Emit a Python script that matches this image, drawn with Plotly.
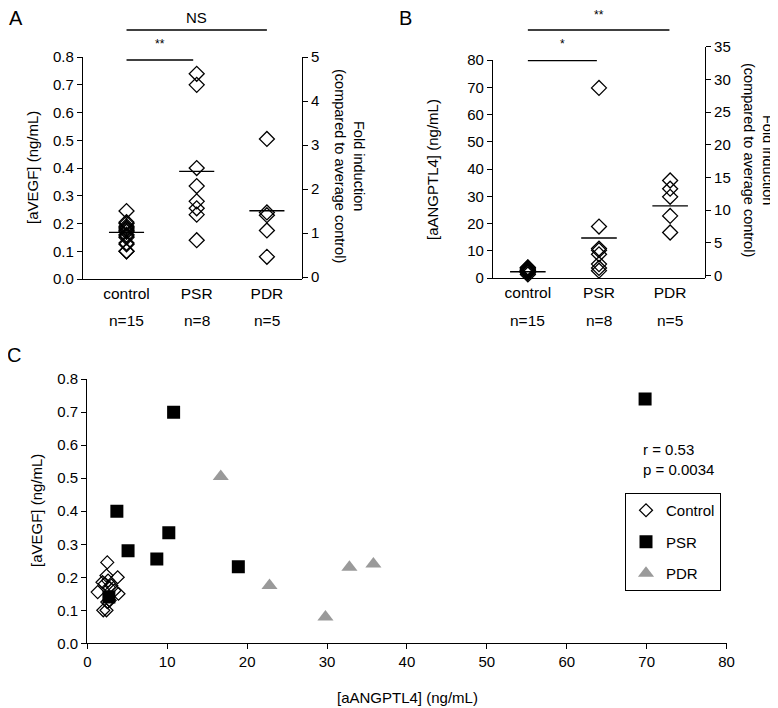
import plotly.graph_objects as go

# the page adds an 8 px body margin, so the figure is laid out in reference
# pixel coordinates shifted by OFF
OFF = 8
W, H = 778 - OFF, 708 - OFF
FONT = "Liberation Sans, Arial, sans-serif"

# ---------------- data ----------------
categories = ["control", "PSR", "PDR"]
n_labels = ["n=15", "n=8", "n=5"]

ctrl_angptl4 = [2.5, 2.4, 3.8, 2.6, 1.9, 2.2, 3.0, 2.7, 3.4, 1.3, 3.9, 2.8, 2.5, 2.0, 2.4]
ctrl_vegf = [0.245, 0.205, 0.20, 0.19, 0.185, 0.18, 0.175, 0.17, 0.16, 0.155, 0.15, 0.13, 0.125, 0.10, 0.10]

psr_angptl4 = [69.8, 10.8, 3.7, 10.2, 5.1, 8.7, 18.9, 2.7]
psr_vegf = [0.74, 0.70, 0.40, 0.335, 0.28, 0.255, 0.232, 0.14]

pdr_angptl4 = [16.7, 22.8, 29.8, 32.8, 35.8]
pdr_vegf = [0.505, 0.175, 0.08, 0.23, 0.24]

vegf_means = [0.168, 0.388, 0.246]
angptl4_means = [2.3, 14.7, 26.5]

sig_a = [("**", 0, 0.95), ("NS", 0, 2.0)]
sig_b = [("*", 0, 0.97), ("**", 0, 1.99)]

corr_text = ["r = 0.53", "p = 0.0034"]

# ---------------- helpers ----------------
def px(x):
    return (x - OFF) / W

def py(y):
    return 1 - (y - OFF) / H

fig = go.Figure()

groups_vegf = [ctrl_vegf, psr_vegf, pdr_vegf]
groups_ang = [ctrl_angptl4, psr_angptl4, pdr_angptl4]

def dot_panel(groups, means, xa, ya):
    for i, vals in enumerate(groups):
        fig.add_trace(go.Scatter(
            x=[i] * len(vals), y=vals, mode="markers", xaxis=xa, yaxis=ya,
            marker=dict(symbol="diamond-open", size=11.5, color="black", line=dict(width=1.3)),
            showlegend=False, hoverinfo="y", cliponaxis=False))
    for i, m in enumerate(means):
        fig.add_trace(go.Scatter(
            x=[i - 0.25, i + 0.25], y=[m, m], mode="lines", xaxis=xa, yaxis=ya,
            line=dict(color="black", width=1.4), showlegend=False, hoverinfo="skip"))

dot_panel(groups_vegf, vegf_means, "x", "y")
dot_panel(groups_ang, angptl4_means, "x3", "y3")

# dummy traces for the right-hand fold-induction axes
fig.add_trace(go.Scatter(x=[None], y=[None], xaxis="x2", yaxis="y2", showlegend=False))
fig.add_trace(go.Scatter(x=[None], y=[None], xaxis="x4", yaxis="y4", showlegend=False))

# panel C scatter
fig.add_trace(go.Scatter(
    x=ctrl_angptl4, y=ctrl_vegf, mode="markers", name="Control", xaxis="x5", yaxis="y5",
    marker=dict(symbol="diamond-open", size=10, color="black", line=dict(width=1.2)),
    legendgroup="c"))
fig.add_trace(go.Scatter(
    x=psr_angptl4, y=psr_vegf, mode="markers", name="PSR", xaxis="x5", yaxis="y5",
    marker=dict(symbol="square", size=13, color="black"), legendgroup="p"))
fig.add_trace(go.Scatter(
    x=pdr_angptl4, y=pdr_vegf, mode="markers", name="PDR", xaxis="x5", yaxis="y5",
    marker=dict(symbol="triangle-up", size=14, color="#9a9a9a"), legendgroup="d"))

tickfont = dict(family=FONT, size=15, color="black")
common_y = dict(showline=True, linecolor="black", linewidth=1.2, ticks="outside", ticklen=5,
                tickcolor="black", showgrid=False, zeroline=False, tickfont=tickfont,
                automargin=False)
common_x = dict(showline=True, linecolor="black", linewidth=1.2, showgrid=False, zeroline=False,
                automargin=False)
catfont = dict(family=FONT, size=15.5, color="black")

# Panel A
A_dom_x = [px(83), px(302)]
A_dom_y = [py(279), py(57)]
# Panel B
B_dom_x = [px(493), px(705)]
B_dom_y = [py(278), py(60)]

fig.update_layout(
    width=W, height=H, margin=dict(l=0, r=0, t=0, b=0),
    paper_bgcolor="white", plot_bgcolor="rgba(0,0,0,0)",
    font=dict(family=FONT, color="black"),
    xaxis=dict(domain=A_dom_x, anchor="y", range=[-0.62, 2.5], tickmode="array",
               tickvals=[0, 1, 2], ticktext=categories, ticks="", ticklen=0, tickfont=catfont,
               **common_x),
    yaxis=dict(domain=A_dom_y, anchor="x", range=[0, 0.8005], dtick=0.1, tick0=0,
               tickformat=".1f", **common_y),
    xaxis2=dict(domain=A_dom_x, anchor="y2", visible=False, range=[0, 1], automargin=False),
    yaxis2=dict(domain=A_dom_y, anchor="x2", side="right", range=[-0.045, 5.001], dtick=1, tick0=0,
                **common_y),
    xaxis3=dict(domain=B_dom_x, anchor="y3", range=[-0.49, 2.49], tickmode="array",
                tickvals=[0, 1, 2], ticktext=categories, ticks="", ticklen=0, tickfont=catfont,
                **common_x),
    yaxis3=dict(domain=B_dom_y, anchor="x3", range=[0, 80.05], dtick=10, tick0=0, **common_y),
    xaxis4=dict(domain=B_dom_x, anchor="y4", visible=False, range=[0, 1], automargin=False),
    yaxis4=dict(domain=[py(278), py(46.7)], anchor="x4", side="right", range=[-0.4, 35.01],
                dtick=5, tick0=0, **common_y),
    xaxis5=dict(domain=[px(87.3), px(727)], anchor="y5", range=[0, 80.05], dtick=10, tick0=0,
                ticks="outside", ticklen=5, tickcolor="black", tickfont=tickfont, **common_x),
    yaxis5=dict(domain=[py(643.3), py(379)], anchor="x5", range=[0, 0.8005], dtick=0.1, tick0=0,
                tickformat=".1f", **common_y),
    legend=dict(x=px(625), y=py(493), xanchor="left", yanchor="top", bordercolor="black",
                borderwidth=1, font=dict(family=FONT, size=15, color="black"),
                tracegroupgap=9, bgcolor="white"),
)

ann = []
shapes = []

def txt(text, x, y, size=15, angle=0, xanchor="center", yanchor="middle", align="center"):
    ann.append(dict(text=text, x=px(x), y=py(y), xref="paper", yref="paper", showarrow=False,
                    font=dict(family=FONT, size=size, color="black"), textangle=angle,
                    xanchor=xanchor, yanchor=yanchor, align=align))

# panel letters
txt("A", 16, 18, size=20)
txt("B", 406, 18, size=20)
txt("C", 14, 355, size=20)

# axis titles
txt("[aVEGF] (ng/mL)", 33, 168, angle=-90)
txt("Fold induction<br>(compared to average control)", 350, 166, size=14.5, angle=90)
txt("[aANGPTL4] (ng/mL)", 432, 169, angle=-90)
txt("Fold induction<br>(compared to average control)", 758, 160, size=14.5, angle=90)
txt("[aVEGF] (ng/mL)", 37, 511, angle=-90)
txt("[aANGPTL4] (ng/mL)", 407, 697)

# n labels under categories
for i, n in enumerate(n_labels):
    ann.append(dict(text=n, x=i, xref="x", y=py(320), yref="paper", showarrow=False,
                    font=catfont, yanchor="middle"))
    ann.append(dict(text=n, x=i, xref="x3", y=py(320), yref="paper", showarrow=False,
                    font=catfont, yanchor="middle"))

# significance brackets
for (label, x0, x1), yl, yt in zip(sig_a, [60, 30], [44, 17]):
    shapes.append(dict(type="line", xref="x", yref="paper", x0=x0, x1=x1, y0=py(yl), y1=py(yl),
                       line=dict(color="black", width=1.3)))
    ann.append(dict(text=label, x=(x0 + x1) / 2, xref="x", y=py(yt), yref="paper", showarrow=False,
                    font=dict(family=FONT, size=15 if label == "NS" else 12, color="black"),
                    yanchor="middle"))
for (label, x0, x1), yl, yt in zip(sig_b, [60.7, 30], [44, 15]):
    shapes.append(dict(type="line", xref="x3", yref="paper", x0=x0, x1=x1, y0=py(yl), y1=py(yl),
                       line=dict(color="black", width=1.3)))
    ann.append(dict(text=label, x=(x0 + x1) / 2, xref="x3", y=py(yt), yref="paper", showarrow=False,
                    font=dict(family=FONT, size=12, color="black"), yanchor="middle"))

# correlation text
txt(corr_text[0], 641, 449, xanchor="left", align="left")
txt(corr_text[1], 641, 469, xanchor="left", align="left")

fig.update_layout(annotations=ann, shapes=shapes)
fig.write_html("out.html")
